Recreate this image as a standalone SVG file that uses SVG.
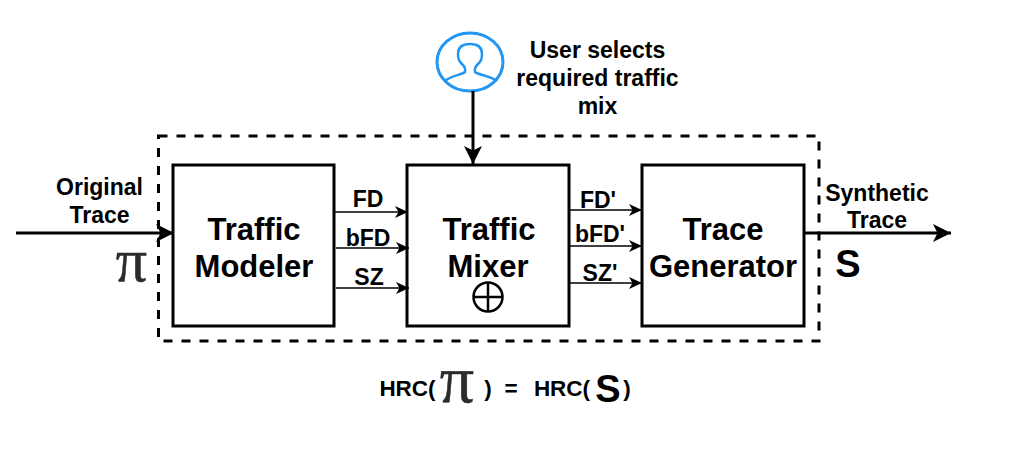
<svg xmlns="http://www.w3.org/2000/svg" width="1014" height="454" viewBox="0 0 1014 454">
<style>
text{font-family:"Liberation Sans",Arial,sans-serif;font-weight:700;fill:#000;text-anchor:middle}
.box{fill:#fff;stroke:#000;stroke-width:3}
.big{font-size:31px}
.lab{font-size:23px}
.sm{font-size:22.500px}
.pi{font-family:"Liberation Serif","DejaVu Serif",serif;font-weight:400;fill:#2b2b2b;stroke:#2b2b2b;stroke-width:.5}
.thin{stroke:#000;stroke-width:1.6;fill:none}
.thick{stroke:#000;stroke-width:3;fill:none}
</style>
<defs>
<marker id="a" markerUnits="userSpaceOnUse" markerWidth="14" markerHeight="14" refX="13" refY="7" orient="auto"><path d="M0 1 L13 7 L0 13 L3.500 7Z" fill="#000"/></marker>
<marker id="b" markerUnits="userSpaceOnUse" markerWidth="20" markerHeight="20" refX="18" refY="10" orient="auto"><path d="M0 1 L18 10 L0 19 L4.500 10Z" fill="#000"/></marker>
</defs>
<rect id="boundary" x="158.500" y="136" width="660.500" height="205" fill="none" stroke="#000" stroke-width="3" stroke-dasharray="9 9"/>
<g id="traffic-modeler"><rect class="box" x="173" y="165" width="161" height="161"/><text class="big" x="254" y="240">Traffic</text><text class="big" x="254" y="277">Modeler</text></g>
<g id="traffic-mixer"><rect class="box" x="407" y="165" width="162" height="161"/><text class="big" x="489" y="240">Traffic</text><text class="big" x="488" y="277">Mixer</text>
<g fill="none" stroke="#000" stroke-width="2.500"><circle cx="488" cy="297" r="14.500"/><path d="M473.500 297H502.500M488 282.500V311.500"/></g></g>
<g id="trace-generator"><rect class="box" x="642" y="165" width="162" height="161"/><text class="big" x="723" y="240">Trace</text><text class="big" x="723" y="277">Generator</text></g>
<g id="user"><ellipse cx="470" cy="62" rx="33" ry="29" fill="#fff" stroke="#2196f3" stroke-width="3"/>
<path d="M445 81 C452 75 462 75 465 72 C466 68 464 66 461 63 C458 60 458 57 458 54 C458 47 463 44 470 44 C477 44 482 47 482 54 C482 57 482 60 479 63 C476 66 474 68 475 72 C478 75 489 75 497 81" fill="none" stroke="#2196f3" stroke-width="2.500"/>
<text class="lab" x="597.500" y="58">User selects</text><text class="lab" x="597.500" y="86">required traffic</text><text class="lab" x="597.500" y="114">mix</text></g>
<g id="connectors">
<path class="thick" d="M473 91V164" marker-end="url(#b)"/>
<path class="thick" d="M16 233H174" marker-end="url(#b)"/>
<path class="thick" d="M804 233H951" marker-end="url(#b)"/>
<path class="thin" d="M335 212H408" marker-end="url(#a)"/>
<path class="thin" d="M336 248H409" marker-end="url(#a)"/>
<path class="thin" d="M336 288H409" marker-end="url(#a)"/>
<path class="thin" d="M570 210H642" marker-end="url(#a)"/>
<path class="thin" d="M570 246H642" marker-end="url(#a)"/>
<path class="thin" d="M570 283H642" marker-end="url(#a)"/>
</g>
<g id="labels">
<text class="lab" x="99.500" y="195">Original</text><text class="lab" x="99.500" y="223">Trace</text>
<text class="pi" x="131.500" y="281" font-size="62">π</text>
<text class="lab" x="368" y="207">FD</text><text class="lab" x="368" y="246">bFD</text><text class="lab" x="369" y="285">SZ</text>
<text class="lab" x="598" y="208">FD'</text><text class="lab" x="600" y="242">bFD'</text><text class="lab" x="600" y="281">SZ'</text>
<text class="lab" x="877" y="201">Synthetic</text><text class="lab" x="877" y="228">Trace</text>
<text x="848" y="277" font-size="38">S</text>
<text class="sm" x="407.500" y="396">HRC(</text>
<text class="pi" x="457" y="402" font-size="68">π</text>
<text class="sm" x="488" y="396">)</text><text class="sm" x="511" y="396">=</text>
<text class="sm" x="562" y="396">HRC(</text>
<text x="608" y="402" font-size="38">S</text>
<text class="sm" x="627" y="396">)</text>
</g>
</svg>
